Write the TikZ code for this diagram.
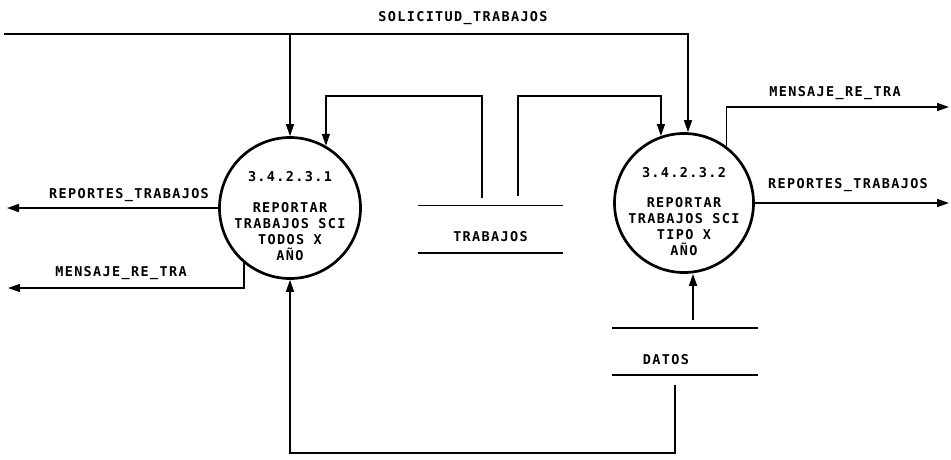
\documentclass[tikz,border=0pt]{standalone}
\usepackage{fontspec}
\newfontfamily\plotfont[LetterSpace=10]{DejaVu Sans Mono}
\usetikzlibrary{arrows.meta,calc}
\begin{document}
\begin{tikzpicture}[x=1pt,y=-1pt,
  flow/.style={line width=1.6pt,-{Triangle[length=12pt,width=8pt]}},
  plain/.style={line width=1.6pt},
  proc/.style={circle,draw,line width=2.7pt,minimum size=141pt,inner sep=0pt},
  store/.style={minimum width=145pt,minimum height=47pt,inner sep=0pt},
  lbl/.style={font=\plotfont\bfseries\fontsize{13.5}{16}\selectfont,inner sep=0pt,align=center}]
\useasboundingbox (0,0) rectangle (951,459);
% processes
\node[proc] (c1) at (290,208) {};
\node[proc, minimum size=139pt] (c2) at (684,203) {};
\node[lbl] (c1id) at ([yshift=31.5pt]c1.center) {3.4.2.3.1};
\node[lbl] (c1t) at ([yshift=-24pt]c1.center) {REPORTAR\\TRABAJOS SCI\\TODOS X\\AÑO};
\node[lbl] (c2id) at ([yshift=30.5pt]c2.center) {3.4.2.3.2};
\node[lbl] (c2t) at ([yshift=-24pt]c2.center) {REPORTAR\\TRABAJOS SCI\\TIPO X\\AÑO};
% stores
\node[store] (trab) at (490.5,229) {};
\node[store] (datos) at (685,351.5) {};
\draw[plain] (trab.north west) -- (trab.north east) (trab.south west) -- (trab.south east);
\draw[plain] (datos.north west) -- (datos.north east) (datos.south west) -- (datos.south east);
\node[lbl] (ltrab) at ([yshift=-8pt]trab.center) {TRABAJOS};
\node[lbl] (ldatos) at ($(datos.center)+(-19,8.5)$) {DATOS};
% free ends
\coordinate (srcL) at (4,34);
\coordinate (oMR) at (949,107);
\coordinate (oRR) at (949,200);
\coordinate (oRL) at (7,209);
\coordinate (oML) at (8,288);
\coordinate (bot) at (0,453);
% connectors
\draw[flow] (srcL) -| ([xshift=4pt]c2.north);
\draw[flow] (c1.north |- srcL) -- (c1.north);
\draw[flow] ([xshift=-8.5pt,yshift=7pt]trab.north) |- ($(c1.60)+(0,-50)$) -- (c1.60);
\draw[flow] ([xshift=27.5pt,yshift=9pt]trab.north) |- ($(c2.109)+(0,-40)$) -- (c2.109);
\draw[flow] (c2.53) |- (oMR);
\draw[flow] (c2.east) -- (c2.east -| oRR);
\draw[flow] (c1.west) -- (c1.west -| oRL);
\draw[flow] (c1.230) |- (oML);
\draw[flow] ([xshift=-10pt,yshift=-10pt]datos.south) |- (c1.south |- bot) -- (c1.south);
\draw[flow] ([xshift=8pt,yshift=8pt]datos.north) coordinate (d1) -- (d1 |- c2.south);
% labels
\node[lbl] (lsol) at (463,18) {SOLICITUD\_TRABAJOS};
\node[lbl] (lrl) at (129,195) {REPORTES\_TRABAJOS};
\node[lbl] (lml) at (121,273) {MENSAJE\_RE\_TRA};
\node[lbl] (lmr) at (835,93) {MENSAJE\_RE\_TRA};
\node[lbl] (lrr) at (848,185) {REPORTES\_TRABAJOS};
\end{tikzpicture}
\end{document}
